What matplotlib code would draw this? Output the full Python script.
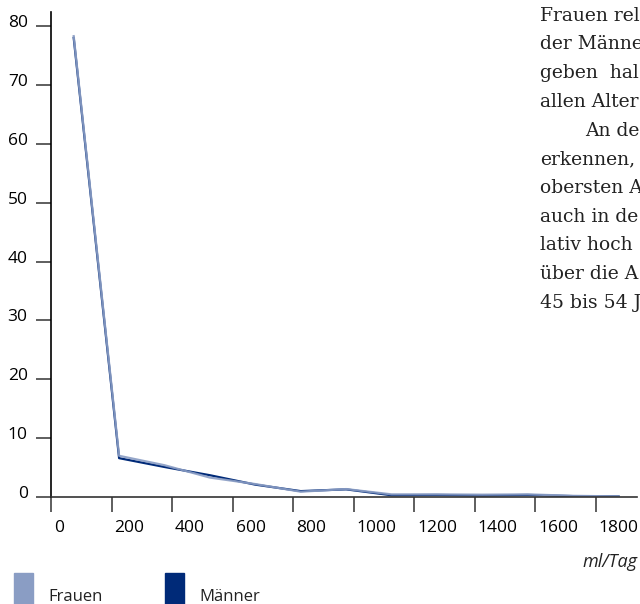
import matplotlib
matplotlib.use("Agg")
import matplotlib.pyplot as plt
from matplotlib.transforms import ScaledTranslation

# Trinkmenge (ml/Tag), Klassenmitten
menge = [75, 225, 375, 525, 675, 825, 975, 1125, 1275, 1425, 1575, 1725, 1875]
frauen = [78.3, 7.0, 5.4, 3.3, 2.2, 0.9, 1.35, 0.45, 0.45, 0.4, 0.45, 0.2, 0.1]
maenner = [78.0, 6.6, 5.1, 3.7, 2.1, 1.0, 1.3, 0.3, 0.35, 0.25, 0.35, 0.15, 0.1]

x_ticks = [0, 200, 400, 600, 800, 1000, 1200, 1400, 1600, 1800]
y_ticks = [0, 10, 20, 30, 40, 50, 60, 70, 80]

body_lines = ["Frauen rel", "der Männe", "geben  hal", "allen Alter",
              "An de", "erkennen,", "obersten A", "auch in de",
              "lativ hoch", "über die A", "45 bis 54 J"]

col_f = "#8a9dc4"
col_m = "#002a78"
sans = ["Open Sans", "DejaVu Sans"]

W, H = 640, 604
fig = plt.figure(figsize=(6.4, 6.04), dpi=100)
ax = fig.add_axes([51 / W, 107 / H, 586 / W, 485 / H])

ax.plot(menge, maenner, color=col_m, lw=1.6, solid_joinstyle="round")
ax.plot(menge, frauen, color=col_f, lw=1.6, alpha=0.9, solid_joinstyle="round")

ax.set_xlim(0, 1936)
ax.set_ylim(0, 82.4)
for s in ["top", "right"]:
    ax.spines[s].set_visible(False)
ax.spines["left"].set_color("black")
ax.spines["bottom"].set_color("#333333")
ax.spines["left"].set_linewidth(1.2)
ax.spines["bottom"].set_linewidth(1.2)

ax.set_xticks(x_ticks)
ax.set_yticks(y_ticks)
ax.set_xticklabels([str(v) for v in x_ticks], fontsize=12.5, family=sans, ha="left")
ax.set_yticklabels([str(v) for v in y_ticks], fontsize=12.5, family=sans)
ax.tick_params(axis="both", direction="out", length=10.8, width=1.1, color="#333333")
ax.tick_params(axis="x", pad=6)
ax.tick_params(axis="y", pad=6)
for lab in ax.get_xticklabels():
    lab.set_transform(lab.get_transform() + ScaledTranslation(3 / 100, 0, fig.dpi_scale_trans))
for lab in ax.get_yticklabels():
    lab.set_transform(lab.get_transform() + ScaledTranslation(0, 5 / 100, fig.dpi_scale_trans))

fig.text(637 / W, 1 - 562 / H, "ml/Tag", ha="right", va="center", fontsize=13,
         style="italic", family=sans, color="#222222")

# Legende
for x0, col, name in [(14, col_f, "Frauen"), (165, col_m, "Männer")]:
    fig.patches.append(plt.Rectangle((x0 / W, 0), 19 / W, 31 / H, transform=fig.transFigure,
                                     color=col, figure=fig))
    fig.text((x0 + 34) / W, 3 / H, name, ha="left", va="baseline", fontsize=12,
             family=sans, color="#222222")

# Fließtext rechts (angeschnitten)
for i, line in enumerate(body_lines):
    x0 = 585 if i == 4 else 540
    fig.text(x0 / W, 1 - (20.7 + i * 28.7) / H, line, ha="left", va="baseline",
             fontsize=13.5, family="DejaVu Serif", color="#222222")

fig.savefig("out.png", dpi=100)
